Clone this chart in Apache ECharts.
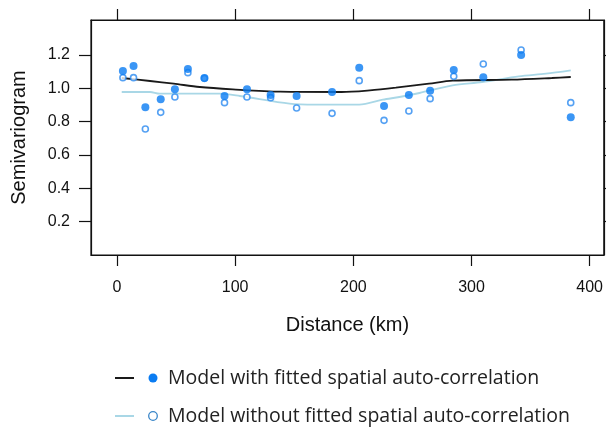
<!DOCTYPE html>
<html>
<head>
<meta charset="utf-8">
<script src="https://cdn.jsdelivr.net/npm/echarts@6/dist/echarts.min.js"></script>
<style>
  html, body { margin: 0; padding: 0; background: #fff; }
  #chart { width: 606px; height: 428px; }
</style>
</head>
<body>
<div id="chart"></div>
<script>
// Lag distances (km) of the empirical semivariogram bins
const lagDist = [5, 14, 24, 37, 49, 60, 74, 91, 110, 130, 152, 182, 205, 226, 247, 265, 285, 310, 342, 384];
// Empirical semivariance, model with fitted spatial auto-correlation
const semivarFitted = [1.104, 1.134, 0.886, 0.934, 0.994, 1.116, 1.062, 0.954, 0.994, 0.960, 0.954, 0.978, 1.124, 0.894, 0.960, 0.986, 1.110, 1.066, 1.200, 0.826];
// Empirical semivariance, model without fitted spatial auto-correlation
const semivarUnfitted = [1.064, 1.064, 0.756, 0.856, 0.948, 1.094, 1.060, 0.914, 0.948, 0.944, 0.882, 0.850, 1.046, 0.808, 0.864, 0.938, 1.072, 1.146, 1.230, 0.914];

// Smoothed semivariogram curves
const curveFittedDist = [4, 28, 48, 70, 98, 138, 190, 214, 236, 264, 284, 334, 368, 384];
const curveFittedVal = [1.062, 1.044, 1.028, 1.008, 0.994, 0.980, 0.978, 0.988, 1.004, 1.028, 1.046, 1.052, 1.062, 1.068];
const curveUnfittedDist = [4, 28, 36, 87, 104, 146, 168, 205, 225, 239, 256, 284, 309, 340, 363, 384];
const curveUnfittedVal = [0.978, 0.978, 0.968, 0.968, 0.954, 0.908, 0.902, 0.902, 0.932, 0.948, 0.972, 1.018, 1.038, 1.072, 1.088, 1.108];

// Axis ticks
const xTicks = [0, 100, 200, 300, 400];
const yTicks = [0.2, 0.4, 0.6, 0.8, 1.0, 1.2];

const legendLabels = ['Model with fitted spatial auto-correlation', 'Model without fitted spatial auto-correlation'];

const pointBlue = '#0a7cf2';
const lightLine = '#a9d7e6';
const tickFont = 'Liberation Sans, Arial, sans-serif';
const legendFont = '"Open Sans", "Noto Sans", sans-serif';

const zip = (xs, ys) => xs.map((x, i) => [x, ys[i]]);

const chart = echarts.init(document.getElementById('chart'), null, { renderer: 'canvas' });

const axisLineStyle = { show: true, onZero: false, lineStyle: { color: '#111', width: 1.2 } };
const tickStyle = { color: '#111', width: 1.2 };

chart.setOption({
  animation: false,
  backgroundColor: '#fff',
  grid: { left: 91, top: 20, right: 1, bottom: 173, show: true, borderColor: '#111', borderWidth: 1.2, containLabel: false },
  xAxis: [
    {
      type: 'value', min: -22, max: 412, position: 'bottom',
      axisLine: axisLineStyle,
      axisTick: { show: true, inside: false, length: 11, customValues: xTicks, lineStyle: tickStyle },
      axisLabel: { customValues: xTicks, margin: 25, fontFamily: tickFont, fontSize: 16, color: '#111' },
      splitLine: { show: false },
      name: 'Distance (km)', nameLocation: 'middle', nameGap: 60,
      nameTextStyle: { fontFamily: tickFont, fontSize: 20, color: '#111' }
    },
    {
      type: 'value', min: -22, max: 412, position: 'top',
      axisLine: axisLineStyle,
      axisTick: { show: true, inside: false, length: 11, customValues: xTicks, lineStyle: tickStyle },
      axisLabel: { show: false },
      splitLine: { show: false }
    }
  ],
  yAxis: [
    {
      type: 'value', min: 0, max: 1.41, position: 'left',
      axisLine: axisLineStyle,
      axisTick: { show: true, inside: false, length: 12, customValues: yTicks, lineStyle: tickStyle },
      axisLabel: { customValues: yTicks, margin: 21, fontFamily: tickFont, fontSize: 16, color: '#111',
        formatter: v => v.toFixed(1) },
      splitLine: { show: false },
      name: 'Semivariogram', nameLocation: 'middle', nameGap: 62,
      nameTextStyle: { fontFamily: tickFont, fontSize: 20, color: '#111' }
    },
    {
      type: 'value', min: 0, max: 1.41, position: 'right',
      axisLine: axisLineStyle,
      axisTick: { show: true, inside: false, length: 12, customValues: yTicks, lineStyle: tickStyle },
      axisLabel: { show: false },
      splitLine: { show: false }
    }
  ],
  series: [
    {
      name: 'curveUnfitted', type: 'line', smooth: 0.3, showSymbol: false,
      data: zip(curveUnfittedDist, curveUnfittedVal),
      lineStyle: { color: lightLine, width: 1.8 }, z: 2
    },
    {
      name: 'curveFitted', type: 'line', smooth: 0.3, showSymbol: false,
      data: zip(curveFittedDist, curveFittedVal),
      lineStyle: { color: '#1a1a1a', width: 1.8 }, z: 3
    },
    {
      name: 'pointsUnfitted', type: 'scatter', symbol: 'circle', symbolSize: 6,
      data: zip(lagDist, semivarUnfitted),
      itemStyle: { color: '#fff', borderColor: '#2b8af0', borderWidth: 1.6 }, z: 4
    },
    {
      name: 'pointsFitted', type: 'scatter', symbol: 'circle', symbolSize: 8,
      data: zip(lagDist, semivarFitted),
      itemStyle: { color: pointBlue }, z: 5
    }
  ],
  graphic: [
    { type: 'line', shape: { x1: 115, y1: 378, x2: 134, y2: 378 }, style: { stroke: '#1a1a1a', lineWidth: 2 } },
    { type: 'circle', shape: { cx: 153, cy: 378, r: 4.5 }, style: { fill: pointBlue } },
    { type: 'text', x: 168, y: 378, style: { text: legendLabels[0], font: '19.5px ' + legendFont, fill: '#222', verticalAlign: 'middle' } },
    { type: 'line', shape: { x1: 115, y1: 416, x2: 134, y2: 416 }, style: { stroke: lightLine, lineWidth: 2 } },
    { type: 'circle', shape: { cx: 153, cy: 416, r: 4.3 }, style: { fill: '#fff', stroke: '#3a86c8', lineWidth: 1.3 } },
    { type: 'text', x: 168, y: 416, style: { text: legendLabels[1], font: '19.5px ' + legendFont, fill: '#222', verticalAlign: 'middle' } }
  ]
});
</script>
</body>
</html>
